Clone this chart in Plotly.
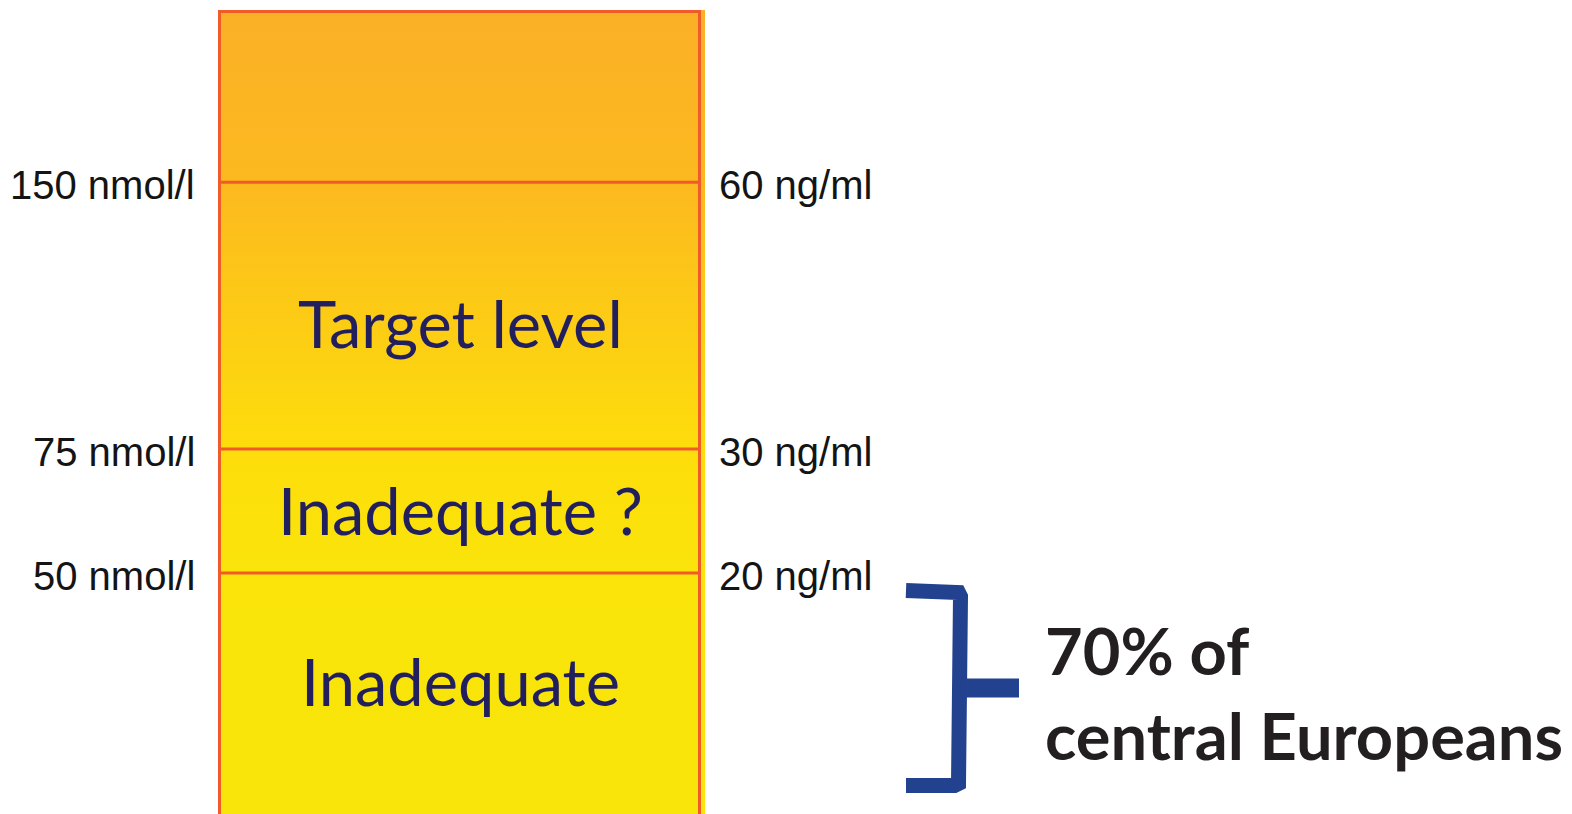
import plotly.graph_objects as go

# ---- data ----
nmol_labels = ["150 nmol/l", "75 nmol/l", "50 nmol/l"]
ngml_labels = ["60 ng/ml", "30 ng/ml", "20 ng/ml"]
# position of each threshold on the (non-linear) schematic scale, bottom = 0
threshold_level = [631.7, 365.0, 241.0]
scale_top = 804.0
scale_bottom = -10.0
band_labels = ["Target level", "Inadequate ?", "Inadequate"]
band_label_level = [491.0, 304.0, 133.0]
note_text = "70% of<br>central Europeans"

BORDER = "#F15A29"
NAVY = "#221F5E"
BRACE = "#22418E"

W, H = 1572, 814
col_x0, col_x1 = 218.0, 705.0
frame_x0, frame_x1 = 219.5, 699.5

fig = go.Figure()

# gradient-filled column
fig.add_trace(go.Scatter(
    x=[col_x0, col_x1, col_x1, col_x0, col_x0],
    y=[scale_top, scale_top, scale_bottom, scale_bottom, scale_top],
    mode="lines", line=dict(width=0), fill="toself",
    fillgradient=dict(
        type="vertical", start=scale_bottom, stop=scale_top,
        colorscale=[[0.0, "#F9E509"], [0.31, "#FAE40A"], [0.46, "#FDDD0B"],
                    [0.79, "#FCB91F"], [1.0, "#FAB026"]]),
    hoverinfo="skip", showlegend=False))

shapes = [dict(type="rect", xref="x", yref="y", x0=frame_x0, x1=frame_x1,
               y0=scale_bottom, y1=scale_top - 1.5,
               line=dict(color=BORDER, width=3), fillcolor="rgba(0,0,0,0)")]
for lv in threshold_level:
    shapes.append(dict(type="line", xref="x", yref="y", x0=frame_x0, x1=frame_x1,
                       y0=lv, y1=lv, line=dict(color=BORDER, width=3)))

annotations = []
for lv, l_txt, r_txt in zip(threshold_level, nmol_labels, ngml_labels):
    annotations.append(dict(x=197, y=lv, xref="x", yref="y", text=l_txt,
                            showarrow=False, xanchor="right", yanchor="middle",
                            yshift=-3,
                            font=dict(family="Liberation Sans, Arial", size=40, color="#141414")))
    annotations.append(dict(x=717, y=lv, xref="x", yref="y", text=r_txt,
                            showarrow=False, xanchor="left", yanchor="middle",
                            yshift=-3,
                            font=dict(family="Liberation Sans, Arial", size=40, color="#141414")))

for lv, txt in zip(band_label_level, band_labels):
    annotations.append(dict(x=(frame_x0 + frame_x1) / 2 + 1, y=lv, xref="x", yref="y",
                            text=txt, showarrow=False, xanchor="center", yanchor="middle",
                            font=dict(family="Lato", size=65, color=NAVY)))

# brace spanning the lowest band
b_top = threshold_level[2] - 17.5
b_bot = 28.5
b_mid = (b_top + b_bot) / 2
bx0, bx = 906.0, 960.5
fig.add_trace(go.Scatter(
    x=[bx0, bx - 6, bx - 2, bx, bx, bx - 2, bx - 6, bx0],
    y=[b_top, b_top, b_top - 2, b_top - 6, b_bot + 6, b_bot + 2, b_bot, b_bot],
    mode="lines", line=dict(color=BRACE, width=15, shape="linear"),
    hoverinfo="skip", showlegend=False))
fig.add_trace(go.Scatter(
    x=[bx, 1019.0], y=[b_mid, b_mid],
    mode="lines", line=dict(color=BRACE, width=19),
    hoverinfo="skip", showlegend=False))

annotations.append(dict(x=1043, y=b_mid, xref="x", yref="y", text=note_text,
                        showarrow=False, xanchor="left", yanchor="middle", align="left",
                        yshift=-4,
                        font=dict(family="Lato", size=65, color="#231F20", weight="bold")))

fig.update_layout(
    width=W, height=H, margin=dict(l=0, r=0, t=0, b=0),
    paper_bgcolor="white", plot_bgcolor="white",
    xaxis=dict(range=[0, W], visible=False, fixedrange=True),
    yaxis=dict(range=[0, H], visible=False, fixedrange=True),
    shapes=shapes, annotations=annotations, showlegend=False)

fig.write_html("out.html", config={"displayModeBar": False})
